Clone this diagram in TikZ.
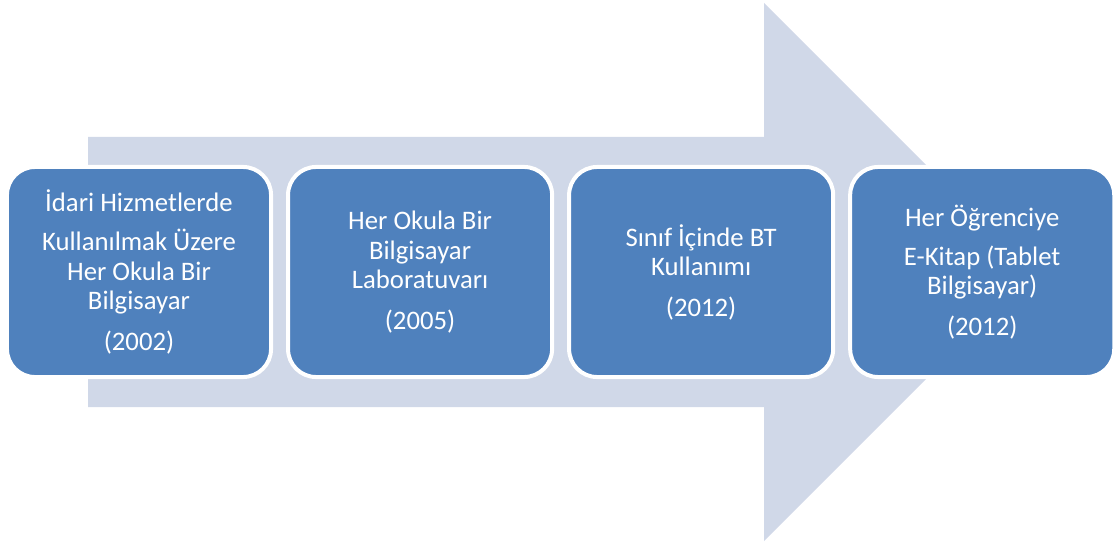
\documentclass[tikz,border=0pt]{standalone}
\usepackage{fontspec}
\setmainfont{Carlito}
\usetikzlibrary{positioning}

\definecolor{arrowfill}{HTML}{D0D8E8}
\definecolor{stagefill}{HTML}{4F81BD}

\tikzset{
  stage/.style={draw=white, line width=0.1cm, fill=stagefill, rounded corners=0.7cm,
    minimum width=6.6cm, minimum height=5.25cm, align=center, text=white,
    font=\fontsize{19}{20.9}\selectfont}
}

\begin{document}
\begin{tikzpicture}[x=0.025cm, y=-0.025cm, node distance=7.025cm]
        \useasboundingbox (0,0) rectangle (1113,545);

        % background arrow
        \fill[arrowfill] (88,137) -- (764,137) -- (764,3) -- (1033,272) -- (764,541) -- (764,407) -- (88,407) -- cycle;

        \node[stage] (idari) at (139,272) {İdari Hizmetlerde\\[7pt]Kullanılmak Üzere\\Her Okula Bir\\Bilgisayar\\[8pt](2002)};
        \node[stage, right of=idari] (lab) {Her Okula Bir\\Bilgisayar\\Laboratuvarı\\[8pt](2005)};
        \node[stage, right of=lab] (sinif) {Sınıf İçinde BT\\Kullanımı\\[8pt](2012)};
        \node[stage, right of=sinif] (ekitap) {Her Öğrenciye\\[7pt]E-Kitap (Tablet\\Bilgisayar)\\[8pt](2012)};
    \end{tikzpicture}
\end{document}
